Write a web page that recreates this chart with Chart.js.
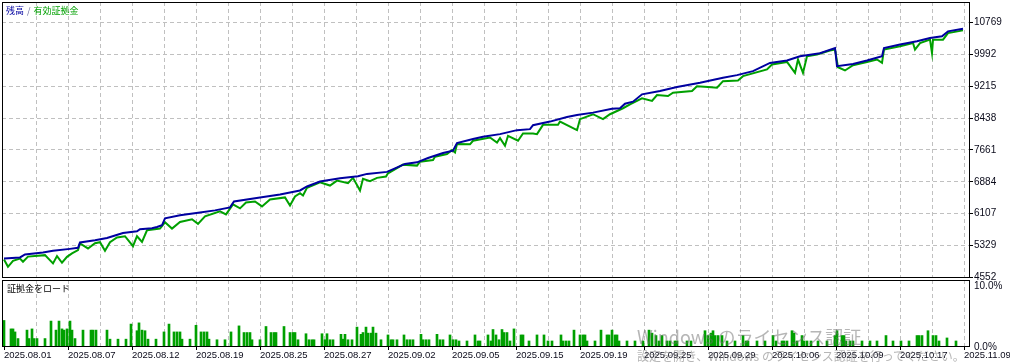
<!DOCTYPE html>
<html lang="ja">
<head>
    <meta charset="UTF-8">
    <title>残高 / 有効証拠金</title>
    <script src="https://cdn.jsdelivr.net/npm/chart.js@4.4.1/dist/chart.umd.min.js"></script>
    <style>
        * { margin: 0; padding: 0; box-sizing: border-box; }
        body { background: #fff; width: 1010px; height: 364px; overflow: hidden; }
        .wrap { position: relative; width: 1010px; height: 364px; }
        .pane { position: absolute; left: 0; width: 1010px; }
        #topPane { top: 0; height: 280px; }
        #botPane { top: 278px; height: 86px; }
        .txt {
            position: absolute;
            font-family: "Noto Sans CJK JP", sans-serif;
            font-size: 9px;
            line-height: 1;
            white-space: nowrap;
        }
        #legend { left: 6px; top: 6px; }
        #loadTitle { left: 7px; top: 284px; color: #000; }
        .wm { color: rgba(110, 110, 110, 0.5); left: 637px; }
        #wm1 { top: 327px; font-size: 18px; }
        #wm2 { top: 350px; font-size: 12px; }
    </style>
</head>
<body>
    <div class="wrap">
        <div class="pane" id="topPane"><canvas id="balanceChart"></canvas></div>
        <div class="pane" id="botPane"><canvas id="loadChart"></canvas></div>
        <div class="txt" id="legend"><span style="color:#0000a0">残高</span><span style="color:#6a6a9a;margin:0 3px">/</span><span style="color:#00a000">有効証拠金</span></div>
        <div class="txt" id="loadTitle">証拠金をロード</div>
        <div class="txt wm" id="wm1">Windows のライセンス認証</div>
        <div class="txt wm" id="wm2">設定を開き、Windows のライセンス認証を行ってください。</div>
    </div>

    <script>
        // axis labels
        const dateLabels = ['2025.08.01', '2025.08.07', '2025.08.12', '2025.08.19', '2025.08.25', '2025.08.27',
            '2025.09.02', '2025.09.05', '2025.09.15', '2025.09.19', '2025.09.25', '2025.09.29',
            '2025.10.06', '2025.10.09', '2025.10.17', '2025.11.09'];
        const balanceTicks = [4552, 5329, 6107, 6884, 7661, 8438, 9215, 9992, 10769];
        const loadTicks = [0, 10];

        // balance (deal index, value)
        const balIdx = [0, 8, 10.5, 19.5, 24.5, 33, 37, 38, 45.5, 51.5, 55.5, 59.5, 66.5, 68, 74, 76.5, 79, 80.5, 88, 98,
            105.5, 113, 115, 128, 138, 148, 151.5, 158, 168, 177, 181.5, 191.5, 195.5, 200.5, 206.5, 212, 219.5, 224.5, 226.5, 234.5,
            239.5, 248, 256.5, 263, 264.5, 273, 281.5, 286.5, 294.5, 304, 308, 310.5, 314.5, 319, 328, 336.5, 348, 359.5, 366.5, 374.5,
            383, 391.5, 398, 408, 415.5, 416.5, 424.5, 431.5, 439, 440, 448, 456.5, 463, 469, 472, 479.5];
        const balVal = [5013, 5038, 5110, 5159, 5198, 5246, 5271, 5402, 5458, 5513, 5572, 5635, 5676, 5725, 5749, 5781, 5822, 5992, 6065, 6137,
            6186, 6259, 6405, 6502, 6574, 6672, 6769, 6890, 6970, 7019, 7077, 7126, 7213, 7320, 7359, 7466, 7587, 7643, 7830, 7927,
            7983, 8048, 8145, 8170, 8267, 8354, 8468, 8517, 8573, 8670, 8680, 8791, 8840, 9020, 9100, 9197, 9301, 9423, 9488, 9585,
            9787, 9845, 9949, 10022, 10151, 9707, 9762, 9845, 9949, 10151, 10234, 10314, 10394, 10435, 10557, 10622];

        // equity (deal index, value)
        const eqIdx = [0, 2, 4.5, 8, 9.5, 12, 20.5, 24.5, 26.5, 29, 31.5, 34, 37, 38, 42, 45.5, 48, 50.5, 53, 56.5,
            60.5, 64.5, 66.5, 69, 71.5, 78, 80.5, 84, 88, 94, 97, 100.5, 108, 111, 114.5, 118, 121, 125.5, 129, 133,
            140.5, 143, 145.5, 148, 149.5, 151.5, 158, 163, 166.5, 172, 174.5, 178, 179.5, 183, 186.5, 191, 192, 199.5, 206.5, 208,
            214.5, 215.5, 221.5, 224, 225.5, 226.5, 233, 234.5, 243, 246.5, 248, 250.5, 252, 257, 259.5, 264.5, 266.5, 269.5, 277, 278,
            286.5, 288, 294.5, 299.5, 303, 309.5, 313, 319, 324, 326.5, 332, 334.5, 344, 346.5, 352, 356.5, 359.5, 367, 369.5, 381.5,
            384, 391.5, 395.5, 397, 399.5, 401.5, 406.5, 413, 415.5, 417, 420.5, 424.5, 431.5, 436.5, 439, 440, 448, 454.5, 455.5, 458,
            463, 464, 464.5, 469.5, 472, 479.5];
        const eqVal = [4989, 4809, 4955, 5008, 4931, 5057, 5093, 4892, 5069, 4907, 5052, 5135, 5215, 5378, 5256, 5385, 5409, 5198, 5409, 5523,
            5555, 5312, 5555, 5416, 5700, 5742, 5895, 5742, 5902, 5968, 5858, 6040, 6162, 6089, 6332, 6235, 6380, 6405, 6283, 6453,
            6502, 6307, 6526, 6606, 6550, 6737, 6873, 6793, 6914, 6849, 6980, 6672, 6956, 6897, 6980, 7012, 7092, 7303, 7279, 7376,
            7417, 7497, 7563, 7660, 7602, 7806, 7800, 7886, 7966, 7844, 7951, 7764, 8007, 7886, 8063, 8063, 8048, 8274, 8274, 8354,
            8145, 8413, 8534, 8413, 8534, 8680, 8777, 8922, 8857, 9003, 8978, 9058, 9100, 9214, 9197, 9180, 9342, 9359, 9464, 9627,
            9748, 9811, 9544, 9869, 9544, 9949, 9991, 10088, 10112, 9682, 9602, 9731, 9811, 9869, 9787, 10112, 10192, 10272, 10112, 10272,
            10355, 10030, 10355, 10355, 10515, 10581];

        // margin load % (deal index, percent)
        const loadIdx = [0, 3.5, 4.5, 5.5, 7, 11.5, 12.5, 14, 15, 16.5, 20.5, 23.5, 26, 27.5, 29, 30, 31.5, 33, 34, 35.5,
            39.5, 43.5, 44.5, 46, 51.5, 53, 57, 61, 63.5, 66.5, 67.5, 69, 70.5, 72, 76, 80, 82.5, 85, 86.5, 88,
            89, 93, 96, 98.5, 100, 101.5, 102.5, 106.5, 110.5, 113.5, 117.5, 120, 121.5, 123, 124, 128, 131, 133.5, 135, 136,
            140, 143, 144.5, 145.5, 147, 151, 152.5, 154, 155, 159, 160.5, 161.5, 163, 164.5,
            168.5, 169.5, 170.5, 172, 174, 176.5, 178.5, 179.5, 181, 182, 183.5, 184.5, 186, 188.5, 192, 193.5, 194.5, 196.5, 200, 201.5,
            203, 204.5, 208.5, 209.5, 211, 212.5, 216.5, 218, 219.5, 223, 224.5, 226, 227.5, 231.5, 235.5, 237, 238, 242, 243.5, 244.5,
            246, 247.5, 249, 250, 251.5, 253, 255, 258.5, 259.5, 262.5, 266.5, 270, 272, 274, 278.5, 279.5, 281, 282.5, 285, 288,
            289.5, 290.5, 291.5, 295.5, 298.5, 301.5, 302.5, 304, 305.5, 306.5, 307.5, 311.5, 315.5, 319.5, 322.5, 324, 326, 327.5,
            329, 331.5, 333, 335.5, 336.5, 341.5, 343.5, 350.5, 352, 353.5, 354.5, 355.5, 357, 359, 361.5, 365.5, 369.5, 371, 372, 376.5,
            380.5, 384.5, 386, 389, 390, 391.5, 394, 395, 396.5, 399, 400, 401.5, 403.5, 407, 411.5, 415.5, 416.5, 419, 420, 421,
            423, 424.5, 429, 433, 436.5, 441, 444.5, 448.5, 452.5, 456.5, 457.5, 459, 462, 464.5, 466, 467.5, 471.5, 476];
        const loadPct = [4.4, 3.0, 3.0, 2.5, 1.4, 2.8, 1.4, 3.0, 1.4, 1.4, 1.4, 4.3, 2.8, 4.3, 3.0, 2.8, 3.0, 4.3, 2.8, 1.4,
            2.8, 2.8, 2.8, 2.8, 2.8, 1.3, 1.3, 1.3, 3.8, 2.7, 4.0, 2.8, 2.7, 1.3, 1.3, 2.5, 3.8, 2.5, 2.5, 2.5,
            1.3, 1.3, 3.6, 2.5, 2.5, 2.5, 1.3, 1.2, 1.2, 2.5, 3.5, 2.4, 2.4, 2.4, 1.2, 1.2, 3.4, 2.4, 2.4, 2.4,
            3.4, 2.4, 2.4, 2.4, 1.2, 2.2, 1.2, 1.2, 1.2, 2.2, 1.2, 2.2, 1.2, 1.2,
            2.1, 1.3, 2.1, 1.2, 1.2, 3.3, 2.1, 2.4, 3.3, 2.3, 2.3, 3.3, 2.3, 1.2, 2.0, 1.2, 1.2, 1.2, 2.0, 1.2,
            1.2, 1.2, 2.1, 1.2, 1.2, 1.2, 2.1, 1.2, 1.2, 2.0, 1.2, 1.2, 1.0, 1.0, 2.0, 1.0, 1.0, 2.0, 1.0, 2.9,
            2.0, 1.2, 2.9, 2.4, 2.4, 1.0, 3.0, 2.0, 2.0, 1.0, 2.0, 2.0, 1.0, 1.0, 2.0, 1.0, 1.0, 1.0, 2.8, 2.0,
            2.0, 2.0, 1.0, 1.0, 2.8, 2.0, 2.0, 2.8, 2.0, 2.0, 1.0, 1.0, 1.0, 1.0, 2.8, 2.3, 1.9, 1.0,
            1.9, 1.0, 1.0, 1.0, 1.0, 1.0, 1.0, 2.7, 1.9, 2.3, 2.7, 1.9, 1.9, 1.9, 1.0, 1.0, 1.9, 1.0, 1.0, 1.0,
            1.0, 1.9, 1.0, 1.0, 1.0, 1.0, 2.7, 2.3, 1.0, 1.9, 1.0, 1.0, 1.0, 1.0, 1.0, 1.9, 2.7, 1.9, 1.9, 1.0,
            1.0, 1.0, 1.0, 1.0, 1.0, 1.9, 1.0, 1.0, 1.0, 1.9, 1.9, 1.9, 2.7, 1.9, 1.9, 1.0, 1.5, 1.0];

        Chart.defaults.font.family = '"Liberation Sans", Arial, sans-serif';
        Chart.defaults.font.size = 10;
        Chart.defaults.color = '#0a0a1a';

        // vertical grid every 16 deals, date label every 32
        const gridIdx = [];
        for (let v = 0; v <= 480; v += 16) gridIdx.push(v);

        const xy = (xs, ys) => xs.map((x, i) => ({ x: x, y: ys[i] }));

        // black frame around each plot area
        const frame = {
            id: 'frame',
            afterDraw(chart) {
                const { ctx, chartArea: a } = chart;
                ctx.save();
                ctx.strokeStyle = '#000';
                ctx.lineWidth = 1;
                ctx.strokeRect(Math.round(a.left) + 0.5, Math.round(a.top) + 0.5,
                    Math.round(a.right - a.left) - 1, Math.round(a.bottom - a.top) - 1);
                ctx.restore();
            }
        };

        const xGrid = {
            color: c => (c.tick && c.tick.value > 0 ? '#c0c0c0' : 'transparent'),
            offset: false
        };

        new Chart(document.getElementById('balanceChart'), {
            type: 'line',
            data: {
                datasets: [
                    { label: '残高', data: xy(balIdx, balVal), borderColor: '#0000a0', borderWidth: 2, pointRadius: 0, tension: 0 },
                    { label: '有効証拠金', data: xy(eqIdx, eqVal), borderColor: '#00a000', borderWidth: 2, pointRadius: 0, tension: 0 }
                ]
            },
            options: {
                responsive: true,
                maintainAspectRatio: false,
                animation: false,
                layout: { padding: { left: 2, top: 2, right: 0, bottom: 0 } },
                plugins: { legend: { display: false }, tooltip: { enabled: false } },
                scales: {
                    x: {
                        type: 'linear', min: -1, max: 483,
                        afterBuildTicks: s => { s.ticks = gridIdx.map(v => ({ value: v })); },
                        afterFit: s => { s.height = 2; s.paddingLeft = 0; s.paddingRight = 0; },
                        ticks: { display: false },
                        grid: Object.assign({ drawTicks: false }, xGrid),
                        border: { display: false, dash: [4, 3] }
                    },
                    y: {
                        position: 'right', min: 4535, max: 11274,
                        afterBuildTicks: s => { s.ticks = balanceTicks.map(v => ({ value: v })); },
                        afterFit: s => { s.width = 40; s.paddingTop = 0; s.paddingBottom = 0; },
                        ticks: { padding: 1, callback: v => String(v) },
                        grid: { color: '#c0c0c0', tickLength: 3, tickColor: '#000', tickBorderDash: [] },
                        border: { display: false, dash: [4, 3] }
                    }
                }
            },
            plugins: [frame]
        });

        new Chart(document.getElementById('loadChart'), {
            type: 'bar',
            data: {
                datasets: [
                    { label: '証拠金をロード', data: xy(loadIdx, loadPct), backgroundColor: '#00a000', barThickness: 2, grouped: false }
                ]
            },
            options: {
                responsive: true,
                maintainAspectRatio: false,
                animation: false,
                layout: { padding: { left: 2, top: 2, right: 0, bottom: 0 } },
                plugins: { legend: { display: false }, tooltip: { enabled: false } },
                scales: {
                    x: {
                        type: 'linear', min: -1, max: 483, offset: false,
                        afterBuildTicks: s => { s.ticks = gridIdx.map(v => ({ value: v })); },
                        afterFit: s => { s.height = 17; s.paddingLeft = 0; s.paddingRight = 0; },
                        ticks: {
                            autoSkip: false, maxRotation: 0, minRotation: 0, align: 'start', padding: 0,
                            font: { size: 9.5 },
                            callback: v => (v % 32 === 0 ? dateLabels[v / 32] : '')
                        },
                        grid: Object.assign({
                            tickLength: 3,
                            tickBorderDash: [],
                            tickColor: c => (c.tick && c.tick.value % 32 === 0 ? '#000' : 'transparent')
                        }, xGrid),
                        border: { display: false, dash: [4, 3] }
                    },
                    y: {
                        position: 'right', min: 0, max: 11.11,
                        afterBuildTicks: s => { s.ticks = loadTicks.map(v => ({ value: v })); },
                        afterFit: s => { s.width = 40; s.paddingTop = 0; s.paddingBottom = 0; },
                        ticks: { padding: 1, callback: v => v.toFixed(1) + '%' },
                        grid: { drawOnChartArea: false, tickLength: 3, tickColor: 'transparent' },
                        border: { display: false }
                    }
                }
            },
            plugins: [frame]
        });
    </script>
</body>
</html>
